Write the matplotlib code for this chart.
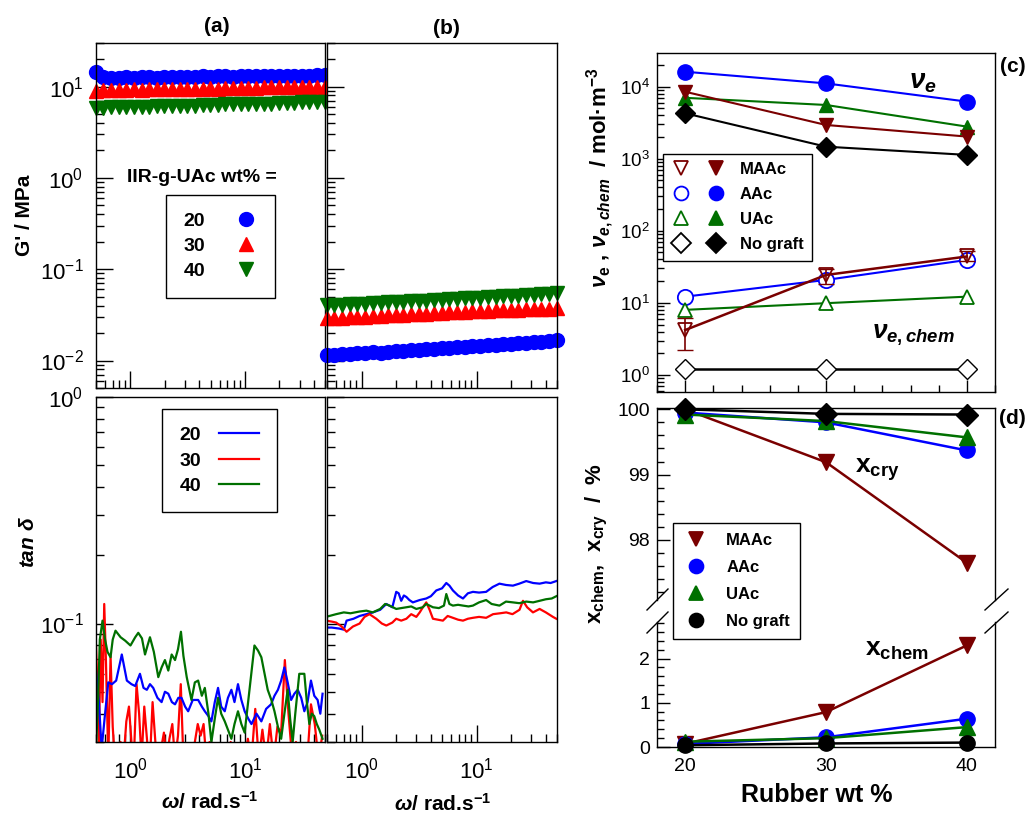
import matplotlib
matplotlib.use("Agg")
import matplotlib.pyplot as plt
from matplotlib.ticker import NullFormatter, MultipleLocator, FixedLocator
from matplotlib.lines import Line2D
from matplotlib.legend_handler import HandlerTuple

plt.rcParams['font.family'] = ['Liberation Sans', 'DejaVu Sans']
plt.rcParams['mathtext.fontset'] = 'custom'
plt.rcParams['mathtext.rm'] = 'Liberation Sans:bold'
plt.rcParams['mathtext.it'] = 'Liberation Sans:italic:bold'
plt.rcParams['mathtext.bf'] = 'Liberation Sans:bold'
plt.rcParams['axes.unicode_minus'] = False

# ---- data: G' frequency sweeps (a) and (b) ----
omega_g = [0.50, 0.58, 0.68, 0.79, 0.92, 1.07, 1.25, 1.46, 1.70, 1.98,
           2.31, 2.69, 3.14, 3.66, 4.27, 4.98, 5.80, 6.76, 7.88, 9.19,
           10.7, 12.5, 14.6, 17.0, 19.8, 23.1, 26.9, 31.4, 36.6, 42.7, 49.8]
g20_a = [14.3, 12.6, 12.3, 12.5, 12.6, 12.4, 12.6, 12.7, 12.5, 12.7,
         12.8, 12.6, 12.8, 12.7, 12.9, 12.8, 12.9, 13.0, 12.8, 13.0,
         13.0, 13.1, 12.9, 13.1, 13.1, 13.2, 13.0, 13.2, 13.2, 13.3, 13.3]
g30_a = [9.0, 9.1, 9.2, 9.1, 9.2, 9.3, 9.2, 9.3, 9.3, 9.4,
         9.3, 9.4, 9.4, 9.5, 9.5, 9.6, 9.5, 9.6, 9.6, 9.7,
         9.7, 9.7, 9.8, 9.8, 9.8, 9.9, 9.9, 9.9, 10.0, 10.0, 10.0]
g40_a = [5.8, 5.8, 5.9, 5.9, 5.9, 6.0, 6.0, 6.0, 6.1, 6.1,
         6.1, 6.2, 6.2, 6.2, 6.3, 6.3, 6.3, 6.4, 6.4, 6.4,
         6.5, 6.5, 6.5, 6.5, 6.6, 6.6, 6.6, 6.7, 6.7, 6.7, 6.8]
g20_b = [0.0114, 0.0115, 0.0117, 0.0118, 0.0120, 0.0121, 0.0123, 0.0122, 0.0125, 0.0127,
         0.0128, 0.0130, 0.0131, 0.0133, 0.0135, 0.0136, 0.0138, 0.0140, 0.0141, 0.0143,
         0.0145, 0.0147, 0.0148, 0.0150, 0.0152, 0.0154, 0.0156, 0.0158, 0.0160, 0.0163, 0.0166]
g30_b = [0.0289, 0.0291, 0.0294, 0.0297, 0.0300, 0.0303, 0.0306, 0.0309, 0.0312, 0.0315,
         0.0318, 0.0321, 0.0324, 0.0327, 0.0330, 0.0333, 0.0336, 0.0339, 0.0342, 0.0345,
         0.0348, 0.0351, 0.0354, 0.0357, 0.0359, 0.0361, 0.0363, 0.0365, 0.0367, 0.0370, 0.0372]
g40_b = [0.0402, 0.0405, 0.0409, 0.0413, 0.0417, 0.0421, 0.0425, 0.0429, 0.0433, 0.0437,
         0.0441, 0.0445, 0.0449, 0.0454, 0.0459, 0.0464, 0.0469, 0.0474, 0.0479, 0.0484,
         0.0489, 0.0494, 0.0499, 0.0504, 0.0509, 0.0514, 0.0519, 0.0525, 0.0531, 0.0538, 0.0545]

# ---- data: tan delta (a) ----
w20_a = [0.50, 0.53, 0.56, 0.60, 0.64, 0.69, 0.75, 0.84,
         0.93, 1.02, 1.10, 1.21, 1.30, 1.39, 1.48, 1.58,
         1.72, 1.87, 2.00, 2.14, 2.30, 2.45, 2.62, 2.79,
         3.00, 3.19, 3.50, 3.90, 4.20, 4.46, 4.80, 5.09,
         5.45, 5.82, 6.20, 6.66, 7.10, 7.61, 8.10, 8.69,
         9.30, 9.94, 10.7, 11.4, 12.6, 13.9, 15.3, 16.9,
         18.1, 19.4, 20.7, 22.1, 23.6, 25.3, 27.0, 28.9,
         31.0, 33.0, 35.2, 37.7, 40.3, 43.1, 45.5, 47.6]
t20_a = [0.062, 0.045, 0.028, 0.040, 0.055, 0.054, 0.056, 0.073,
         0.056, 0.054, 0.053, 0.060, 0.052, 0.051, 0.054, 0.052,
         0.047, 0.045, 0.050, 0.049, 0.045, 0.044, 0.047, 0.047,
         0.043, 0.041, 0.046, 0.046, 0.043, 0.041, 0.039, 0.037,
         0.045, 0.052, 0.043, 0.041, 0.047, 0.051, 0.045, 0.054,
         0.046, 0.041, 0.038, 0.036, 0.040, 0.037, 0.042, 0.044,
         0.048, 0.051, 0.056, 0.064, 0.055, 0.046, 0.049, 0.051,
         0.047, 0.041, 0.045, 0.056, 0.048, 0.046, 0.040, 0.049]
w30_a = [0.50, 0.51, 0.53, 0.55, 0.57, 0.59, 0.61, 0.64,
         0.67, 0.70, 0.73, 0.77, 0.82, 0.87, 0.92, 0.97,
         1.02, 1.07, 1.13, 1.19, 1.25, 1.32, 1.40, 1.48,
         1.56, 1.65, 1.75, 1.85, 1.96, 2.07, 2.19, 2.32,
         2.45, 2.60, 2.75, 2.90, 3.07, 3.25, 3.45, 3.65,
         3.87, 4.10, 4.35, 4.60, 4.90, 5.20, 5.50, 5.85,
         6.20, 6.60, 7.00, 7.50, 8.00, 8.60, 9.20, 9.90,
         10.6, 11.4, 12.3, 13.2, 14.2, 15.3, 16.5, 17.8,
         19.2, 20.7, 22.3, 24.0, 25.9, 27.9, 30.1, 32.4,
         35.0, 37.7, 40.7, 43.9, 47.3]
t30_a = [0.080, 0.060, 0.030, 0.085, 0.045, 0.122, 0.070, 0.025,
         0.072, 0.035, 0.025, 0.025, 0.030, 0.025, 0.037, 0.043,
         0.030, 0.025, 0.054, 0.040, 0.025, 0.043, 0.030, 0.025,
         0.045, 0.030, 0.025, 0.028, 0.033, 0.025, 0.031, 0.036,
         0.025, 0.032, 0.054, 0.025, 0.028, 0.025, 0.025, 0.030,
         0.036, 0.032, 0.036, 0.025, 0.030, 0.025, 0.028, 0.025,
         0.025, 0.025, 0.025, 0.030, 0.025, 0.025, 0.025, 0.025,
         0.031, 0.025, 0.042, 0.025, 0.034, 0.025, 0.036, 0.025,
         0.035, 0.033, 0.069, 0.040, 0.025, 0.030, 0.025, 0.025,
         0.025, 0.044, 0.036, 0.025, 0.032]
w40_a = [0.50, 0.52, 0.54, 0.57, 0.60, 0.63, 0.67, 0.70,
         0.74, 0.82, 0.90, 1.00, 1.10, 1.17, 1.26, 1.34,
         1.41, 1.48, 1.60, 1.75, 1.87, 2.00, 2.14, 2.29,
         2.45, 2.60, 2.76, 2.90, 3.10, 3.41, 3.65, 3.90,
         4.20, 4.46, 4.80, 5.09, 5.45, 5.82, 6.20, 6.66,
         7.10, 7.61, 8.10, 8.69, 9.30, 9.94, 11.0, 12.1,
         13.0, 13.9, 15.8, 17.0, 18.1, 19.4, 20.7, 22.1,
         23.6, 24.8, 26.1, 27.5, 29.8, 33.0, 34.7, 36.5,
         38.3, 40.3, 42.4, 44.6, 47.6]
t40_a = [0.028, 0.045, 0.085, 0.103, 0.085, 0.075, 0.071, 0.085,
         0.093, 0.087, 0.084, 0.080, 0.087, 0.091, 0.086, 0.073,
         0.080, 0.087, 0.075, 0.058, 0.064, 0.069, 0.062, 0.073,
         0.069, 0.077, 0.092, 0.072, 0.058, 0.046, 0.055, 0.056,
         0.048, 0.052, 0.040, 0.030, 0.038, 0.047, 0.040, 0.037,
         0.034, 0.031, 0.036, 0.041, 0.036, 0.033, 0.052, 0.080,
         0.076, 0.071, 0.051, 0.046, 0.041, 0.035, 0.031, 0.040,
         0.051, 0.038, 0.030, 0.040, 0.060, 0.060, 0.045, 0.036,
         0.040, 0.039, 0.036, 0.034, 0.031]

# ---- data: tan delta (b) ----
w20_b = [0.49, 0.55, 0.64, 0.70, 0.74, 0.85, 0.96, 1.10,
         1.25, 1.45, 1.64, 1.85, 2.00, 2.10, 2.21, 2.33,
         2.45, 2.60, 2.79, 3.20, 3.65, 4.00, 4.46, 5.00,
         5.45, 5.80, 6.22, 6.90, 7.61, 8.40, 9.29, 10.5,
         12.1, 13.8, 15.8, 18.0, 20.7, 23.5, 27.0, 31.0,
         35.3, 40.0, 44.0, 49.3]
t20_b = [0.096, 0.096, 0.095, 0.094, 0.103, 0.105, 0.108, 0.110,
         0.112, 0.115, 0.122, 0.118, 0.138, 0.136, 0.126, 0.133,
         0.131, 0.127, 0.124, 0.127, 0.129, 0.132, 0.140, 0.143,
         0.151, 0.147, 0.140, 0.133, 0.129, 0.136, 0.138, 0.137,
         0.138, 0.145, 0.150, 0.148, 0.147, 0.150, 0.154, 0.151,
         0.150, 0.152, 0.151, 0.154]
w30_b = [0.49, 0.55, 0.60, 0.67, 0.74, 0.84, 0.96, 1.06,
         1.17, 1.34, 1.50, 1.64, 1.85, 2.00, 2.21, 2.45,
         2.70, 2.99, 3.20, 3.41, 3.65, 3.90, 4.17, 4.60,
         5.09, 5.60, 6.22, 6.90, 7.61, 8.40, 9.29, 10.5,
         12.1, 13.9, 16.0, 18.1, 20.5, 23.6, 25.3, 27.5,
         30.9, 35.3, 40.0, 46.1, 49.3]
t30_b = [0.103, 0.102, 0.101, 0.097, 0.092, 0.097, 0.100, 0.107,
         0.110, 0.105, 0.100, 0.098, 0.101, 0.105, 0.103, 0.105,
         0.110, 0.107, 0.112, 0.118, 0.124, 0.115, 0.105, 0.104,
         0.103, 0.108, 0.106, 0.104, 0.103, 0.105, 0.106, 0.107,
         0.106, 0.110, 0.111, 0.112, 0.110, 0.115, 0.126, 0.118,
         0.112, 0.116, 0.112, 0.107, 0.105]
w40_b = [0.49, 0.60, 0.70, 0.80, 0.96, 1.10, 1.25, 1.45,
         1.60, 1.75, 2.00, 2.21, 2.45, 2.70, 2.99, 3.40,
         3.65, 4.17, 4.70, 5.20, 5.45, 5.80, 6.22, 6.90,
         7.61, 8.50, 9.29, 10.5, 12.1, 13.5, 15.8, 18.0,
         20.7, 23.5, 27.0, 31.0, 35.3, 40.0, 45.0, 49.3]
t40_b = [0.107, 0.110, 0.112, 0.111, 0.113, 0.114, 0.112, 0.116,
         0.122, 0.120, 0.116, 0.117, 0.118, 0.119, 0.116, 0.118,
         0.122, 0.118, 0.117, 0.120, 0.135, 0.122, 0.120, 0.121,
         0.120, 0.119, 0.120, 0.124, 0.127, 0.122, 0.120, 0.125,
         0.124, 0.123, 0.125, 0.124, 0.126, 0.128, 0.129, 0.132]

# ---- data: crosslink density (c) ----
rubber = [20, 30, 40]
ve_maac = [8500, 2940, 2030]
ve_aac = [16100, 11100, 6200]
ve_uac = [7000, 5570, 2790]
ve_nog = [4270, 1470, 1130]
vchem_maac = [4.2, 24.4, 44.0]
vchem_maac_lo = [2.0, 6.0, 6.0]
vchem_maac_hi = [1.9, 5.0, 9.0]
vchem_aac = [12.2, 20.8, 39.4]
vchem_uac = [8.0, 9.9, 12.2]
vchem_nog = [1.2, 1.2, 1.2]

# ---- data: fractions (d) ----
xcry_maac = [100.0, 99.19, 97.65]
xcry_aac = [99.95, 99.80, 99.37]
xcry_uac = [99.92, 99.82, 99.57]
xcry_nog = [100.0, 99.93, 99.92]
xchem_maac = [0.075, 0.79, 2.30]
xchem_aac = [0.07, 0.22, 0.64]
xchem_uac = [0.12, 0.20, 0.45]
xchem_nog = [0.04, 0.08, 0.10]

maroon = '#7a0000'
green = '#007000'

W, H = 1029, 817
fig = plt.figure(figsize=(W / 100, H / 100), dpi=100)


def box(l, t, r, b):
    return [l / W, 1 - b / H, (r - l) / W, (b - t) / H]


def px(x, y):
    return x / W, 1 - y / H


def style(ax, major=12, minor=6, size=16, pad=8):
    ax.tick_params(which='both', direction='in', top=False, right=False,
                   width=1, labelsize=size, pad=pad)
    ax.tick_params(which='major', length=major)
    ax.tick_params(which='minor', length=minor)
    for s in ax.spines.values():
        s.set_linewidth(1.0)


ax_ga = fig.add_axes(box(96, 43, 325, 388))
ax_gb = fig.add_axes(box(327, 43, 557, 388))
ax_ta = fig.add_axes(box(96, 397, 325, 742))
ax_tb = fig.add_axes(box(327, 397, 557, 742))
ax_c = fig.add_axes(box(657, 53, 995, 392))
ax_du = fig.add_axes(box(657, 408, 995, 600))
ax_dl = fig.add_axes(box(657, 622, 995, 747))

# G' panels
mk = dict(ls='none', ms=10, clip_on=False)
h20, = ax_ga.plot(omega_g, g20_a, marker='o', color='blue', mec='blue', **mk)
h30, = ax_ga.plot(omega_g, g30_a, marker='^', color='red', mec='red', **mk)
h40, = ax_ga.plot(omega_g, g40_a, marker='v', color=green, mec=green, **mk)
ax_gb.plot(omega_g, g20_b, marker='o', color='blue', mec='blue', **mk)
ax_gb.plot(omega_g, g30_b, marker='^', color='red', mec='red', **mk)
ax_gb.plot(omega_g, g40_b, marker='v', color=green, mec=green, **mk)

# tan delta panels
ax_ta.plot(w30_a, t30_a, color='red', lw=1.6)
ax_ta.plot(w20_a, t20_a, color='blue', lw=1.6)
ax_ta.plot(w40_a, t40_a, color=green, lw=1.6)
l20, = ax_tb.plot(w20_b, t20_b, color='blue', lw=1.6)
l30, = ax_tb.plot(w30_b, t30_b, color='red', lw=1.6)
l40, = ax_tb.plot(w40_b, t40_b, color=green, lw=1.6)

for ax in (ax_ga, ax_gb, ax_ta, ax_tb):
    ax.set_xscale('log')
    ax.set_yscale('log')
    ax.set_xlim(0.5, 50)
    style(ax, pad=11)
    ax.tick_params(axis='y', pad=9)
    ax.xaxis.set_minor_formatter(NullFormatter())
    ax.yaxis.set_minor_formatter(NullFormatter())
for ax in (ax_ga, ax_gb):
    ax.set_ylim(0.005, 30)
    ax.tick_params(labelbottom=False)
for ax in (ax_ta, ax_tb):
    ax.set_ylim(0.03, 1)
for ax in (ax_gb, ax_tb):
    ax.tick_params(labelleft=False)

leg_a = fig.legend([h20, h30, h40], ['20', '30', '40'], loc='upper left',
                   bbox_to_anchor=px(166, 195), borderaxespad=0, markerfirst=False,
                   numpoints=1, fancybox=False, edgecolor='black', framealpha=1,
                   prop={'weight': 'bold', 'size': 14}, handlelength=1.2,
                   handletextpad=1.5, borderpad=0.9, labelspacing=0.38)
leg_a.get_frame().set_linewidth(1.0)
leg_t = fig.legend([l20, l30, l40], ['20', '30', '40'], loc='upper left',
                   bbox_to_anchor=px(162, 409), borderaxespad=0, markerfirst=False,
                   fancybox=False, edgecolor='black', framealpha=1,
                   prop={'weight': 'bold', 'size': 14}, handlelength=2.1,
                   handletextpad=0.9, borderpad=0.9, labelspacing=0.4)
leg_t.get_frame().set_linewidth(1.0)

fig.text(*px(202, 177), 'IIR-g-UAc wt% =', ha='center', va='center',
         fontsize=14, fontweight='bold')
fig.text(*px(217, 27), '(a)', ha='center', va='center', fontsize=15, fontweight='bold')
fig.text(*px(446, 28), '(b)', ha='center', va='center', fontsize=15, fontweight='bold')
fig.text(*px(25, 215), "G' / MPa", ha='center', va='center', rotation=90,
         fontsize=15, fontweight='bold')
fig.text(*px(29, 542), r'$tan\ \delta$', ha='center', va='center', rotation=90,
         fontsize=15)
fig.text(*px(210, 802), r'$\omega$/ rad.s$^{\mathrm{-1}}$', ha='center', va='center',
         fontsize=15, fontweight='bold')
fig.text(*px(443, 804), r'$\omega$/ rad.s$^{\mathrm{-1}}$', ha='center', va='center',
         fontsize=15, fontweight='bold')

# panel (c)
ms = 10
ax_c.plot(rubber, ve_aac, color='blue', marker='o', ms=ms + 1, lw=1.5)
ax_c.plot(rubber, ve_uac, color=green, marker='^', ms=ms, lw=1.5)
ax_c.plot(rubber, ve_maac, color=maroon, marker='v', ms=ms, lw=1.5)
ax_c.plot(rubber, ve_nog, color='black', marker='D', ms=ms, lw=1.5)
ax_c.plot(rubber, vchem_aac, color='blue', marker='o', ms=ms + 1, mfc='white', mew=1.3, lw=1.5)
ax_c.plot(rubber, vchem_uac, color=green, marker='^', ms=ms, mfc='white', mew=1.3, lw=1.5)
ax_c.errorbar(rubber, vchem_maac, yerr=[vchem_maac_lo, vchem_maac_hi], fmt='none',
              ecolor=maroon, elinewidth=1.2, capsize=6)
ax_c.plot(rubber, vchem_maac, color=maroon, marker='v', ms=ms, mfc='none', mew=1.3, lw=1.8)
ax_c.plot(rubber, vchem_nog, color='black', marker='D', ms=ms, mfc='white', mew=1.0, lw=1.8)
ax_c.set_yscale('log')
ax_c.set_ylim(0.58, 2.93e4)
ax_c.set_xlim(18, 42)
ax_c.xaxis.set_major_locator(FixedLocator(rubber))
ax_c.xaxis.set_minor_locator(MultipleLocator(2))
ax_c.yaxis.set_minor_formatter(NullFormatter())
style(ax_c, major=9, minor=5, size=13.5, pad=5)
ax_c.tick_params(labelbottom=False)

pm = dict(ls='none', ms=ms, mew=1.3)
handles_c = [
    (Line2D([], [], marker='v', mfc='white', mec=maroon, **pm),
     Line2D([], [], marker='v', color=maroon, **pm)),
    (Line2D([], [], marker='o', mfc='white', mec='blue', **pm),
     Line2D([], [], marker='o', color='blue', **pm)),
    (Line2D([], [], marker='^', mfc='white', mec=green, **pm),
     Line2D([], [], marker='^', color=green, **pm)),
    (Line2D([], [], marker='D', mfc='white', mec='black', **pm),
     Line2D([], [], marker='D', color='black', **pm)),
]
leg_c = fig.legend(handles_c, ['MAAc', 'AAc', 'UAc', 'No graft'], loc='upper left',
                   bbox_to_anchor=px(663, 154), borderaxespad=0,
                   handler_map={tuple: HandlerTuple(ndivide=None, pad=0.9)},
                   fancybox=False, edgecolor='black', framealpha=1,
                   prop={'weight': 'bold', 'size': 12}, handlelength=3.3,
                   handletextpad=0.8, borderpad=0.5, labelspacing=0.6)
leg_c.get_frame().set_linewidth(1.0)

fig.text(*px(923, 82), r'$\nu_e$', ha='center', va='center', fontsize=20)
fig.text(*px(913, 335), r'$\nu_{e,chem}$', ha='center', va='center', fontsize=19)
fig.text(*px(1013, 67), '(c)', ha='center', va='center', fontsize=15, fontweight='bold')
fig.text(*px(600, 178), r'$\nu_\mathrm{e}$ , $\nu_{e,chem}$  / mol·m$^{\mathrm{-3}}$',
         ha='center', va='center', rotation=90, fontsize=16, fontweight='bold')

# panel (d)
ax_du.plot(rubber, xcry_maac, color=maroon, marker='v', ms=ms + 1, lw=1.8)
ax_du.plot(rubber, xcry_aac, color='blue', marker='o', ms=ms + 1, lw=1.8)
ax_du.plot(rubber, xcry_uac, color=green, marker='^', ms=ms + 1, lw=1.8)
ax_du.plot(rubber, xcry_nog, color='black', marker='D', ms=ms + 1, lw=1.8, clip_on=False)
ax_dl.plot(rubber, xchem_maac, color=maroon, marker='v', ms=ms + 1, lw=1.8, clip_on=False)
ax_dl.plot(rubber, xchem_aac, color='blue', marker='o', ms=ms + 1, lw=1.8, clip_on=False)
ax_dl.plot(rubber, xchem_uac, color=green, marker='^', ms=ms + 1, lw=1.8, clip_on=False)
ax_dl.plot(rubber, xchem_nog, color='black', marker='o', ms=ms + 1, lw=1.8, clip_on=False)
for ax in (ax_du, ax_dl):
    ax.set_xlim(18, 42)
    ax.xaxis.set_major_locator(FixedLocator(rubber))
    ax.yaxis.set_minor_locator(MultipleLocator(0.2))
    style(ax, major=9, minor=5, size=14, pad=5)
ax_du.set_ylim(97.08, 100.02)
ax_du.yaxis.set_major_locator(FixedLocator([98, 99, 100]))
ax_du.spines['bottom'].set_visible(False)
ax_du.tick_params(axis='x', which='both', bottom=False, labelbottom=False)
ax_dl.set_ylim(0, 2.83)
ax_dl.yaxis.set_major_locator(FixedLocator([0, 1, 2]))
ax_dl.spines['top'].set_visible(False)
ax_dl.tick_params(axis='x', which='major', length=0, pad=8)
ax_dl.tick_params(axis='x', which='minor', bottom=False)

# break marks
for (x0, x1) in ((647, 668), (985, 1008)):
    for (y0, y1) in ((610, 589), (633, 612)):
        fig.add_artist(Line2D([x0 / W, x1 / W], [1 - y0 / H, 1 - y1 / H],
                              color='black', lw=1.0))

handles_d = [Line2D([], [], marker='v', color=maroon, **pm),
             Line2D([], [], marker='o', color='blue', **pm),
             Line2D([], [], marker='^', color=green, **pm),
             Line2D([], [], marker='o', color='black', **pm)]
leg_d = fig.legend(handles_d, ['MAAc', 'AAc', 'UAc', 'No graft'], loc='upper left',
                   bbox_to_anchor=px(673, 523), borderaxespad=0,
                   fancybox=False, edgecolor='black', framealpha=1,
                   prop={'weight': 'bold', 'size': 12}, handlelength=1.6,
                   handletextpad=1.0, borderpad=0.6, labelspacing=0.72)
leg_d.get_frame().set_linewidth(1.0)

fig.text(*px(877, 470), r'$\mathrm{x_{cry}}$', ha='center', va='center', fontsize=19)
fig.text(*px(897, 650), r'$\mathrm{x_{chem}}$', ha='center', va='center', fontsize=19)
fig.text(*px(1012, 418), '(d)', ha='center', va='center', fontsize=15, fontweight='bold')
fig.text(*px(597, 543), r'$\mathrm{x_{chem}}$,  $\mathrm{x_{cry}}$  /  %', ha='center',
         va='center', rotation=90, fontsize=16, fontweight='bold')
fig.text(*px(817, 795), 'Rubber wt %', ha='center', va='center', fontsize=18,
         fontweight='bold')

fig.savefig('out.png', dpi=100)
